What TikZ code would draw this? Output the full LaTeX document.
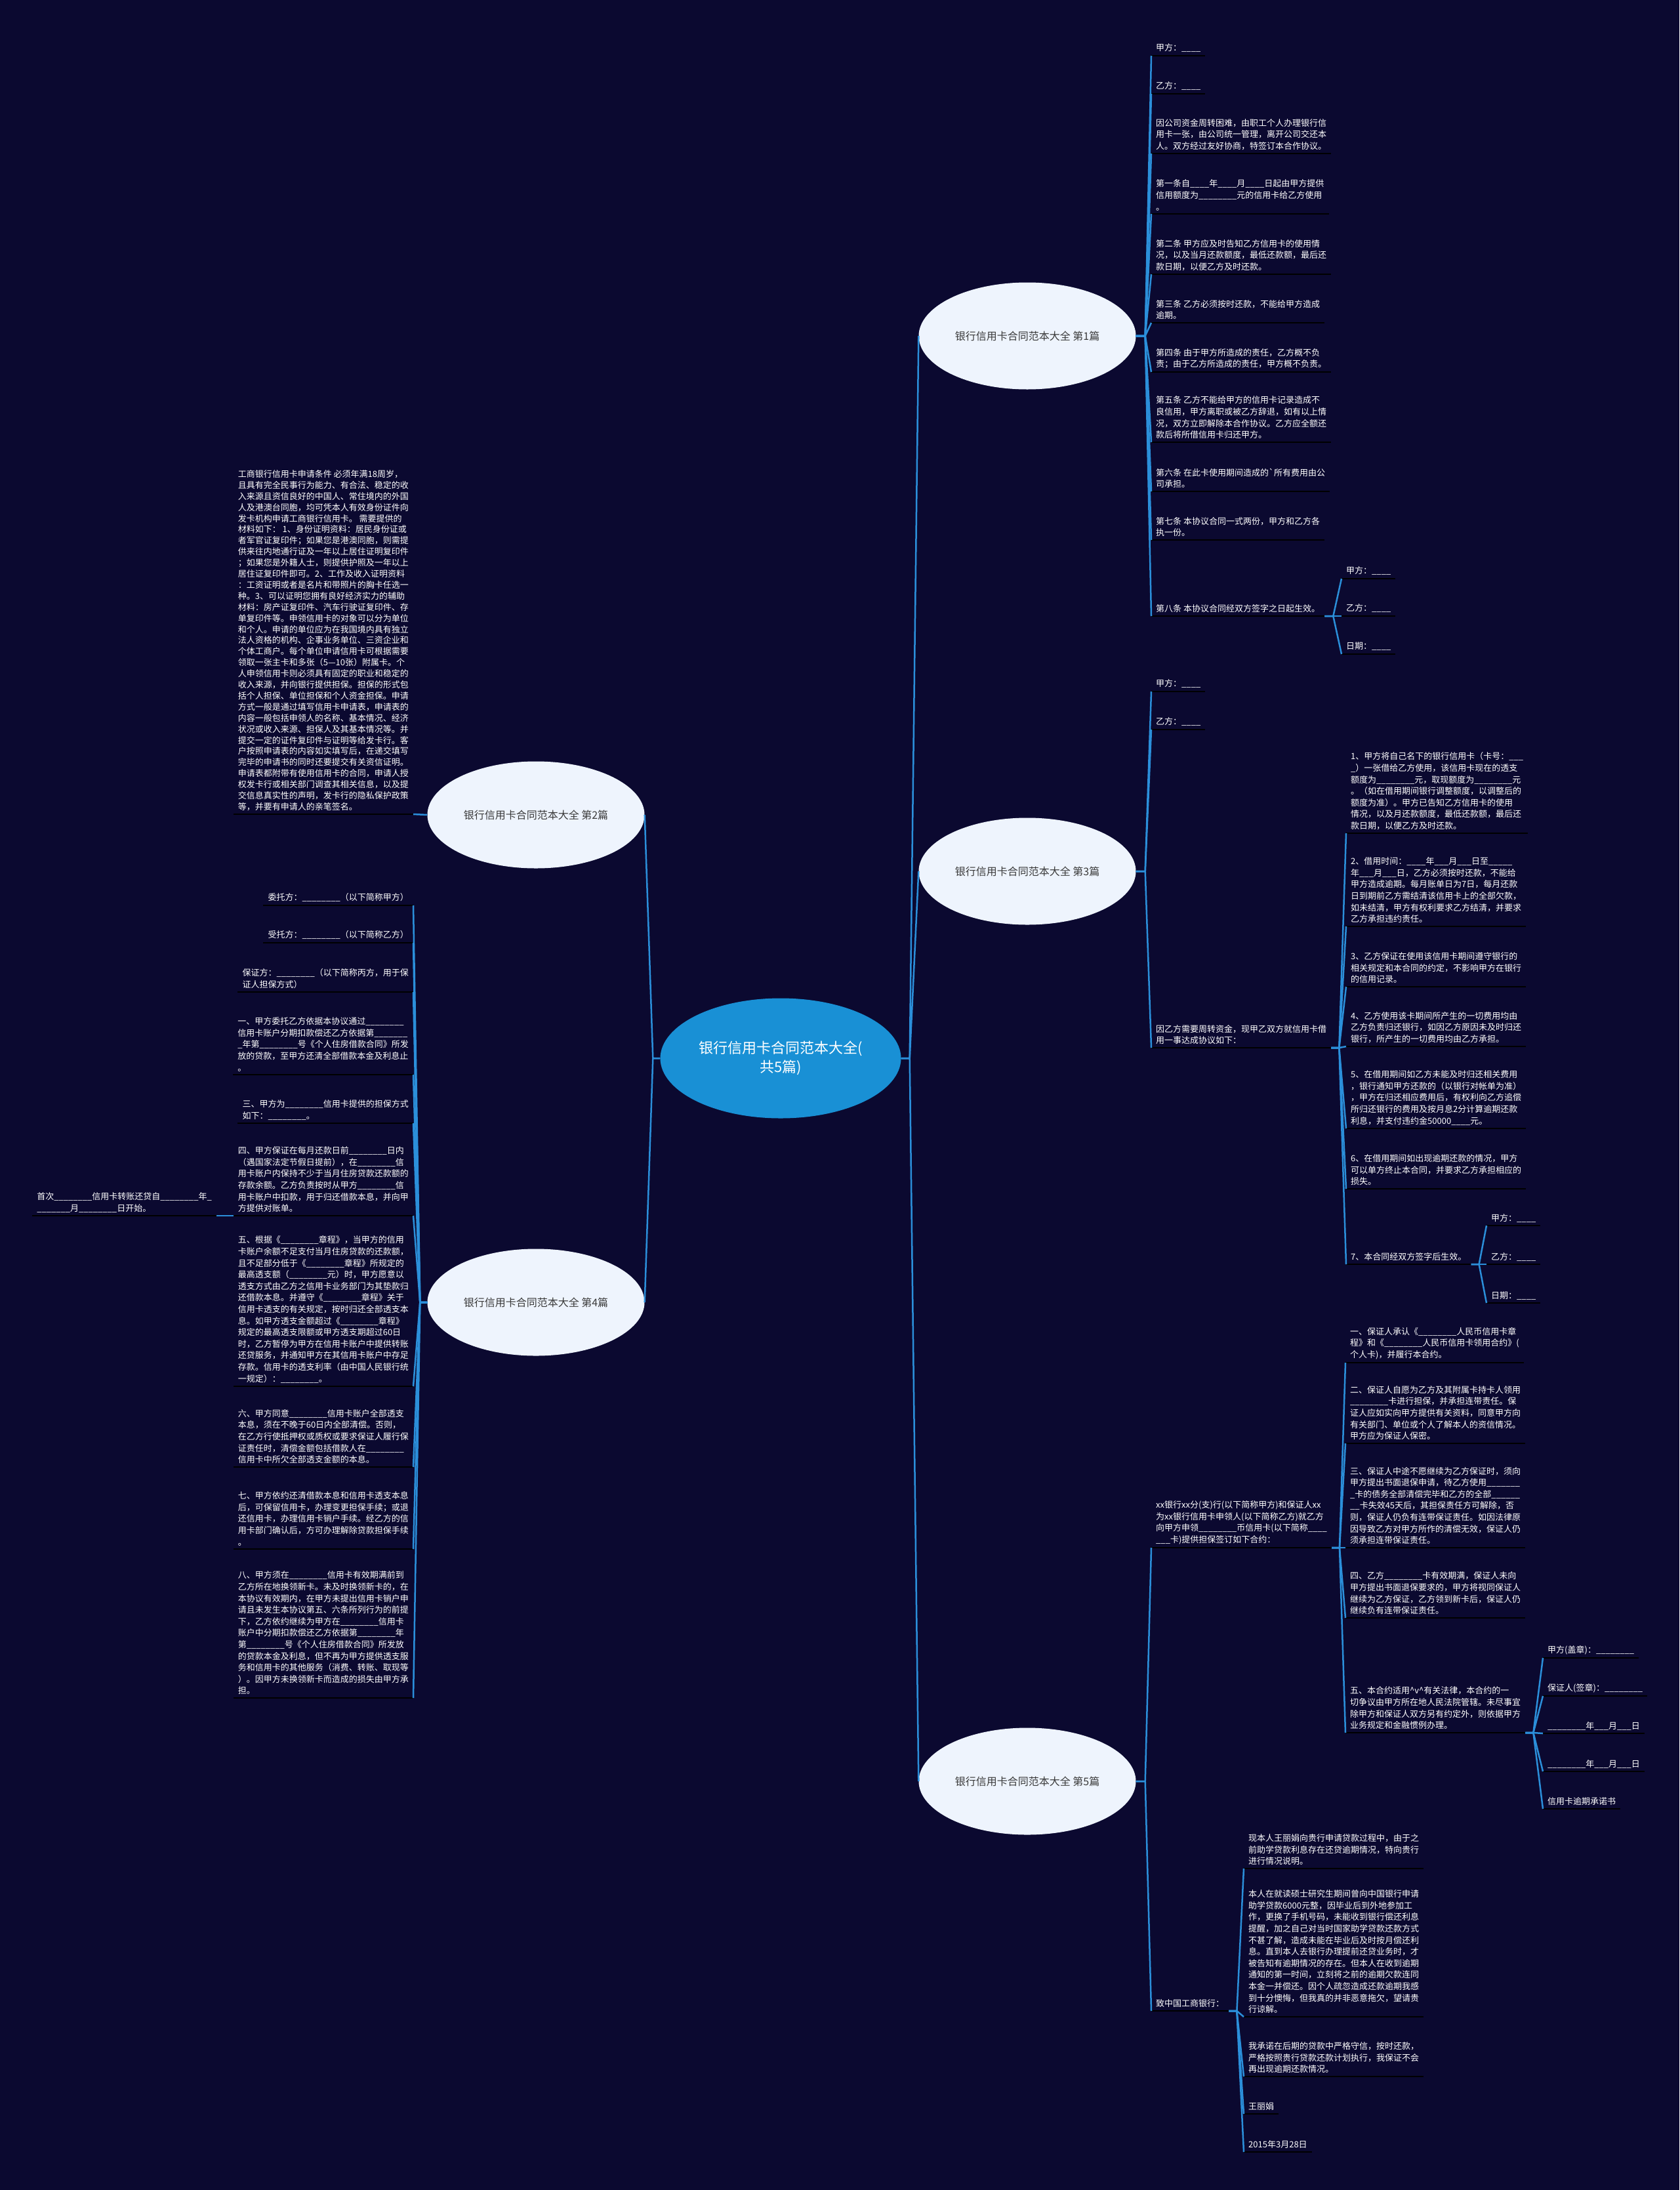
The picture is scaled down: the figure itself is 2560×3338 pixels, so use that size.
\documentclass[tikz,border=0pt]{standalone}
\usepackage{fontspec}
\setmainfont{Noto Sans CJK SC}
\usetikzlibrary{shapes.geometric, positioning}

\definecolor{bgnavy}{HTML}{0B0930}
\definecolor{linkblue}{HTML}{2B8FDA}
\definecolor{rootblue}{HTML}{1990D5}
\definecolor{branchfill}{HTML}{EEF4FD}
\definecolor{branchtext}{HTML}{3A3A3A}

\tikzset{
  root/.style={ellipse, fill=rootblue, text=white, minimum width=367pt, minimum height=183pt,
    inner sep=0pt, align=center, font=\fontsize{22}{29}\selectfont},
  branch/.style={ellipse, fill=branchfill, text=branchtext, minimum width=331pt, minimum height=163pt,
    inner sep=0pt, font=\fontsize{16}{20}\selectfont},
  leaf/.style={align=left, text=white, inner xsep=7pt, inner ysep=5pt, anchor=south west,
    font=\fontsize{13}{17.6}\selectfont,
    append after command={(\tikzlastnode.south west) edge[uline] (\tikzlastnode.south east)}},
  leafl/.style={leaf, anchor=south east},
  link/.style={draw=linkblue, line width=2.5pt},
  uline/.style={draw=black, line width=2.5pt},
}

\begin{document}
\begin{tikzpicture}[x=1pt, y=-1pt]
        % Nền
        \useasboundingbox (0,0) rectangle (2560,3338);
        \fill[bgnavy] (0,0) rectangle (2560,3338);

        % Nút trung tâm và các nhánh
        \node[root] (root) at (1190,1613) {银行信用卡合同范本大全(\\共5篇)};
        \node[branch] (p1) at (1566,512) {银行信用卡合同范本大全 第1篇};
        \node[branch] (p3) at (1566,1328) {银行信用卡合同范本大全 第3篇};
        \node[branch] (p5) at (1566,2715) {银行信用卡合同范本大全 第5篇};
        \node[branch] (p2) at (817,1242) {银行信用卡合同范本大全 第2篇};
        \node[branch] (p4) at (817,1985) {银行信用卡合同范本大全 第4篇};

        % Nhánh 1
        \node[leaf] (p1-1) at (1755,85) {甲方：\_\_\_\_};
        \node[leaf] (p1-2) at (1755,143) {乙方：\_\_\_\_};
        \node[leaf] (p1-3) at (1755,234) {因公司资金周转困难，由职工个人办理银行信\\用卡一张，由公司统一管理，离开公司交还本\\人。双方经过友好协商，特签订本合作协议。};
        \node[leaf] (p1-4) at (1755,326) {第一条自\_\_\_\_年\_\_\_\_月\_\_\_\_日起由甲方提供\\信用额度为\_\_\_\_\_\_\_\_元的信用卡给乙方使用\\。};
        \node[leaf] (p1-5) at (1755,418) {第二条 甲方应及时告知乙方信用卡的使用情\\况，以及当月还款额度，最低还款额，最后还\\款日期，以便乙方及时还款。};
        \node[leaf] (p1-6) at (1755,492) {第三条 乙方必须按时还款，不能给甲方造成\\逾期。};
        \node[leaf] (p1-7) at (1755,567) {第四条 由于甲方所造成的责任，乙方概不负\\责；由于乙方所造成的责任，甲方概不负责。};
        \node[leaf] (p1-8) at (1755,674) {第五条 乙方不能给甲方的信用卡记录造成不\\良信用，甲方离职或被乙方辞退，如有以上情\\况，双方立即解除本合作协议。乙方应全额还\\款后将所借信用卡归还甲方。};
        \node[leaf] (p1-9) at (1755,749) {第六条 在此卡使用期间造成的\textasciigrave 所有费用由公\\司承担。};
        \node[leaf] (p1-10) at (1755,823) {第七条 本协议合同一式两份，甲方和乙方各\\执一份。};
        \node[leaf] (p1-11) at (1755,939) {第八条 本协议合同经双方签字之日起生效。};
        \node[leaf] (p1-11-1) at (2045,882) {甲方：\_\_\_\_};
        \node[leaf] (p1-11-2) at (2045,939) {乙方：\_\_\_\_};
        \node[leaf] (p1-11-3) at (2045,997) {日期：\_\_\_\_};

        % Nhánh 3
        \node[leaf] (p3-1) at (1755,1054) {甲方：\_\_\_\_};
        \node[leaf] (p3-2) at (1755,1112) {乙方：\_\_\_\_};
        \node[leaf] (p3-3) at (1755,1597) {因乙方需要周转资金，现甲乙双方就信用卡借\\用一事达成协议如下：};
        \node[leaf] (p3-3-1) at (2052,1270) {1、甲方将自己名下的银行信用卡（卡号：\_\_\_\\\_）一张借给乙方使用，该信用卡现在的透支\\额度为\_\_\_\_\_\_\_\_元，取现额度为\_\_\_\_\_\_\_\_元\\。（如在借用期间银行调整额度，以调整后的\\额度为准）。甲方已告知乙方信用卡的使用\\情况，以及月还款额度，最低还款额，最后还\\款日期，以便乙方及时还款。};
        \node[leaf] (p3-3-2) at (2052,1412) {2、借用时间：\_\_\_\_年\_\_\_月\_\_\_日至\_\_\_\_\_\\年\_\_\_月\_\_\_日，乙方必须按时还款，不能给\\甲方造成逾期。每月账单日为7日，每月还款\\日到期前乙方需结清该信用卡上的全部欠款，\\如未结清，甲方有权利要求乙方结清，并要求\\乙方承担违约责任。};
        \node[leaf] (p3-3-3) at (2052,1504) {3、乙方保证在使用该信用卡期间遵守银行的\\相关规定和本合同的约定，不影响甲方在银行\\的信用记录。};
        \node[leaf] (p3-3-4) at (2052,1595) {4、乙方使用该卡期间所产生的一切费用均由\\乙方负责归还银行，如因乙方原因未及时归还\\银行，所产生的一切费用均由乙方承担。};
        \node[leaf] (p3-3-5) at (2052,1720) {5、在借用期间如乙方未能及时归还相关费用\\，银行通知甲方还款的（以银行对帐单为准）\\，甲方在归还相应费用后，有权利向乙方追偿\\所归还银行的费用及按月息2分计算逾期还款\\利息，并支付违约金50000\_\_\_\_元。};
        \node[leaf] (p3-3-6) at (2052,1812) {6、在借用期间如出现逾期还款的情况，甲方\\可以单方终止本合同，并要求乙方承担相应的\\损失。};
        \node[leaf] (p3-3-7) at (2052,1927) {7、本合同经双方签字后生效。};
        \node[leaf] (p3-3-7-1) at (2266,1868) {甲方：\_\_\_\_};
        \node[leaf] (p3-3-7-2) at (2266,1927) {乙方：\_\_\_\_};
        \node[leaf] (p3-3-7-3) at (2266,1986) {日期：\_\_\_\_};

        % Nhánh 5
        \node[leaf] (p5-1) at (1755,2359) {xx银行xx分(支)行(以下简称甲方)和保证人xx\\为xx银行信用卡申领人(以下简称乙方)就乙方\\向甲方申领\_\_\_\_\_\_\_\_币信用卡(以下简称\_\_\_\_\\\_\_\_卡)提供担保签订如下合约：};
        \node[leaf] (p5-1-1) at (2051,2077) {一、保证人承认《\_\_\_\_\_\_\_\_人民币信用卡章\\程》和《\_\_\_\_\_\_\_\_人民币信用卡领用合约》(\\个人卡)，并履行本合约。};
        \node[leaf] (p5-1-2) at (2051,2200) {二、保证人自愿为乙方及其附属卡持卡人领用\\\_\_\_\_\_\_\_\_卡进行担保，并承担连带责任。保\\证人应如实向甲方提供有关资料，同意甲方向\\有关部门、单位或个人了解本人的资信情况。\\甲方应为保证人保密。};
        \node[leaf] (p5-1-3) at (2051,2359) {三、保证人中途不愿继续为乙方保证时，须向\\甲方提出书面退保申请，待乙方使用\_\_\_\_\_\_\_\\\_卡的债务全部清偿完毕和乙方的全部\_\_\_\_\_\_\\\_\_卡失效45天后，其担保责任方可解除，否\\则，保证人仍负有连带保证责任。如因法律原\\因导致乙方对甲方所作的清偿无效，保证人仍\\须承担连带保证责任。};
        \node[leaf] (p5-1-4) at (2051,2466) {四、乙方\_\_\_\_\_\_\_\_卡有效期满，保证人未向\\甲方提出书面退保要求的，甲方将视同保证人\\继续为乙方保证，乙方领到新卡后，保证人仍\\继续负有连带保证责任。};
        \node[leaf] (p5-1-5) at (2051,2641) {五、本合约适用\textasciicircum v\textasciicircum 有关法律，本合约的一\\切争议由甲方所在地人民法院管辖。未尽事宜\\除甲方和保证人双方另有约定外，则依据甲方\\业务规定和金融惯例办理。};
        \node[leaf] (p5-1-5-1) at (2352,2527) {甲方(盖章)：\_\_\_\_\_\_\_\_};
        \node[leaf] (p5-1-5-2) at (2352,2585) {保证人(签章)：\_\_\_\_\_\_\_\_};
        \node[leaf] (p5-1-5-3) at (2352,2642) {\_\_\_\_\_\_\_\_年\_\_\_月\_\_\_日};
        \node[leaf] (p5-1-5-4) at (2352,2700) {\_\_\_\_\_\_\_\_年\_\_\_月\_\_\_日};
        \node[leaf] (p5-1-5-5) at (2352,2757) {信用卡逾期承诺书};
        \node[leaf] (p5-2) at (1755,3065) {致中国工商银行：};
        \node[leaf] (p5-2-1) at (1896,2848) {现本人王丽娟向贵行申请贷款过程中，由于之\\前助学贷款利息存在还贷逾期情况，特向贵行\\进行情况说明。};
        \node[leaf] (p5-2-2) at (1896,3074) {本人在就读硕士研究生期间曾向中国银行申请\\助学贷款6000元整，因毕业后到外地参加工\\作，更换了手机号码，未能收到银行偿还利息\\提醒，加之自己对当时国家助学贷款还款方式\\不甚了解，造成未能在毕业后及时按月偿还利\\息。直到本人去银行办理提前还贷业务时，才\\被告知有逾期情况的存在。但本人在收到逾期\\通知的第一时间，立刻将之前的逾期欠款连同\\本金一并偿还。因个人疏忽造成还款逾期我感\\到十分懊悔，但我真的并非恶意拖欠，望请贵\\行谅解。};
        \node[leaf] (p5-2-3) at (1896,3165) {我承诺在后期的贷款中严格守信，按时还款，\\严格按照贵行贷款还款计划执行，我保证不会\\再出现逾期还款情况。};
        \node[leaf] (p5-2-4) at (1896,3222) {王丽娟};
        \node[leaf] (p5-2-5) at (1896,3280) {2015年3月28日};

        % Nhánh 2
        \node[leafl, font=\fontsize{13}{16.9}\selectfont] (p2-1) at (630,1241) {工商银行信用卡申请条件 必须年满18周岁，\\且具有完全民事行为能力、有合法、稳定的收\\入来源且资信良好的中国人、常住境内的外国\\人及港澳台同胞，均可凭本人有效身份证件向\\发卡机构申请工商银行信用卡。 需要提供的\\材料如下： 1、身份证明资料：居民身份证或\\者军官证复印件；如果您是港澳同胞，则需提\\供来往内地通行证及一年以上居住证明复印件\\；如果您是外籍人士，则提供护照及一年以上\\居住证复印件即可。2、工作及收入证明资料\\：工资证明或者是名片和带照片的胸卡任选一\\种。3、可以证明您拥有良好经济实力的辅助\\材料：房产证复印件、汽车行驶证复印件、存\\单复印件等。申领信用卡的对象可以分为单位\\和个人。申请的单位应为在我国境内具有独立\\法人资格的机构、企事业务单位、三资企业和\\个体工商户。每个单位申请信用卡可根据需要\\领取一张主卡和多张（5—10张）附属卡。个\\人申领信用卡则必须具有固定的职业和稳定的\\收入来源，并向银行提供担保。担保的形式包\\括个人担保、单位担保和个人资金担保。申请\\方式一般是通过填写信用卡申请表，申请表的\\内容一般包括申领人的名称、基本情况、经济\\状况或收入来源、担保人及其基本情况等。并\\提交一定的证件复印件与证明等给发卡行。客\\户按照申请表的内容如实填写后，在递交填写\\完毕的申请书的同时还要提交有关资信证明。\\申请表都附带有使用信用卡的合同，申请人授\\权发卡行或相关部门调查其相关信息，以及提\\交信息真实性的声明，发卡行的隐私保护政策\\等，并要有申请人的亲笔签名。};

        % Nhánh 4
        \node[leafl] (p4-1) at (630,1380) {委托方：\_\_\_\_\_\_\_\_（以下简称甲方）};
        \node[leafl] (p4-2) at (630,1437) {受托方：\_\_\_\_\_\_\_\_（以下简称乙方）};
        \node[leafl] (p4-3) at (630,1512) {保证方：\_\_\_\_\_\_\_\_（以下简称丙方，用于保\\证人担保方式）};
        \node[leafl] (p4-4) at (630,1638) {一、甲方委托乙方依据本协议通过\_\_\_\_\_\_\_\_\\信用卡账户分期扣款偿还乙方依据第\_\_\_\_\_\_\_\\\_年第\_\_\_\_\_\_\_\_号《个人住房借款合同》所发\\放的贷款，至甲方还清全部借款本金及利息止\\。};
        \node[leafl] (p4-5) at (630,1712) {三、甲方为\_\_\_\_\_\_\_\_信用卡提供的担保方式\\如下：\_\_\_\_\_\_\_\_。};
        \node[leafl] (p4-6) at (630,1853) {四、甲方保证在每月还款日前\_\_\_\_\_\_\_\_日内\\（遇国家法定节假日提前），在\_\_\_\_\_\_\_\_信\\用卡账户内保持不少于当月住房贷款还款额的\\存款余额。乙方负责按时从甲方\_\_\_\_\_\_\_\_信\\用卡账户中扣款，用于归还借款本息，并向甲\\方提供对账单。};
        \node[leafl] (p4-6-1) at (330,1853) {首次\_\_\_\_\_\_\_\_信用卡转账还贷自\_\_\_\_\_\_\_\_年\_\\\_\_\_\_\_\_\_月\_\_\_\_\_\_\_\_日开始。};
        \node[leafl] (p4-7) at (630,2113) {五、根据《\_\_\_\_\_\_\_\_章程》，当甲方的信用\\卡账户余额不足支付当月住房贷款的还款额，\\且不足部分低于《\_\_\_\_\_\_\_\_章程》所规定的\\最高透支额（\_\_\_\_\_\_\_\_元）时，甲方愿意以\\透支方式由乙方之信用卡业务部门为其垫款归\\还借款本息。并遵守《\_\_\_\_\_\_\_\_章程》关于\\信用卡透支的有关规定，按时归还全部透支本\\息。如甲方透支金额超过《\_\_\_\_\_\_\_\_章程》\\规定的最高透支限额或甲方透支期超过60日\\时，乙方暂停为甲方在信用卡账户中提供转账\\还贷服务，并通知甲方在其信用卡账户中存足\\存款。信用卡的透支利率（由中国人民银行统\\一规定）：\_\_\_\_\_\_\_\_。};
        \node[leafl] (p4-8) at (630,2236) {六、甲方同意\_\_\_\_\_\_\_\_信用卡账户全部透支\\本息，须在不晚于60日内全部清偿。否则，\\在乙方行使抵押权或质权或要求保证人履行保\\证责任时，清偿金额包括借款人在\_\_\_\_\_\_\_\_\\信用卡中所欠全部透支金额的本息。};
        \node[leafl] (p4-9) at (630,2361) {七、甲方依约还清借款本息和信用卡透支本息\\后，可保留信用卡，办理变更担保手续；或退\\还信用卡，办理信用卡销户手续。经乙方的信\\用卡部门确认后，方可办理解除贷款担保手续\\。};
        \node[leafl] (p4-10) at (630,2588) {八、甲方须在\_\_\_\_\_\_\_\_信用卡有效期满前到\\乙方所在地换领新卡。未及时换领新卡的，在\\本协议有效期内，在甲方未提出信用卡销户申\\请且未发生本协议第五、六条所列行为的前提\\下，乙方依约继续为甲方在\_\_\_\_\_\_\_\_信用卡\\账户中分期扣款偿还乙方依据第\_\_\_\_\_\_\_\_年\\第\_\_\_\_\_\_\_\_号《个人住房借款合同》所发放\\的贷款本金及利息，但不再为甲方提供透支服\\务和信用卡的其他服务（消费、转账、取现等\\）。因甲方未换领新卡而造成的损失由甲方承\\担。};

        % Đường nối
        \foreach \b in {p1,p3,p5} \draw[link] (root.east) -- ++(13,0) -- (\b.west);
        \foreach \b in {p2,p4} \draw[link] (root.west) -- ++(-11,0) -- (\b.east);
        \foreach \i in {1,...,11} \draw[link] (p1.east) -- ++(14,0) -- (p1-\i.south west);
        \foreach \i in {1,2,3} \draw[link] (p1-11.south east) -- ++(13,0) -- (p1-11-\i.south west);
        \foreach \i in {1,2,3} \draw[link] (p3.east) -- ++(14,0) -- (p3-\i.south west);
        \foreach \i in {1,...,7} \draw[link] (p3-3.south east) -- ++(12,0) -- (p3-3-\i.south west);
        \foreach \i in {1,2,3} \draw[link] (p3-3-7.south east) -- ++(12,0) -- (p3-3-7-\i.south west);
        \foreach \i in {1,2} \draw[link] (p5.east) -- ++(14,0) -- (p5-\i.south west);
        \foreach \i in {1,...,5} \draw[link] (p5-1.south east) -- ++(12,0) -- (p5-1-\i.south west);
        \foreach \i in {1,...,5} \draw[link] (p5-1-5.south east) -- ++(12,0) -- (p5-1-5-\i.south west);
        \foreach \i in {1,...,5} \draw[link] (p5-2.south east) -- ++(12,0) -- (p5-2-\i.south west);
        \draw[link] (p2.west) -- (p2-1.south east);
        \foreach \i in {1,...,10} \draw[link] (p4.west) -- ++(-11,0) -- (p4-\i.south east);
        \draw[link] (p4-6.south west) -- (p4-6-1.south east);
\end{tikzpicture}
\end{document}
